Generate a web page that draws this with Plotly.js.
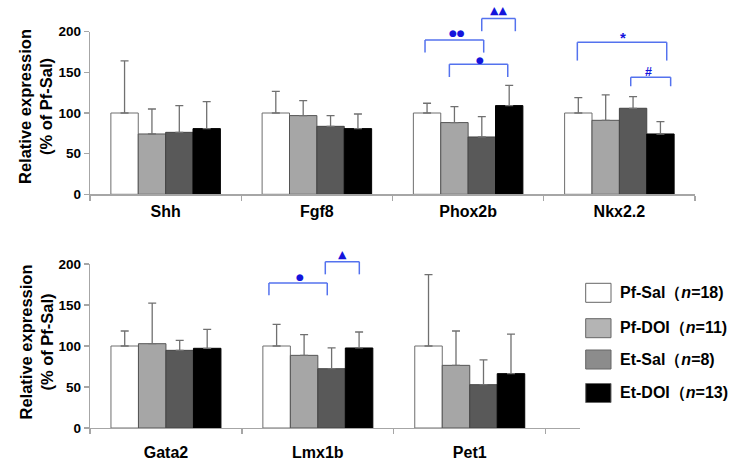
<!DOCTYPE html>
<html>
<head>
<meta charset="utf-8">
<script src="https://cdn.plot.ly/plotly-3.0.1.min.js"></script>
<style>html,body{margin:0;padding:0;background:#fff;}#chart{width:730px;height:468px;}</style>
</head>
<body>
<div id="chart"></div>
<script>
// ---------- data ----------
const groups = ['Pf-Sal', 'Pf-DOI', 'Et-Sal', 'Et-DOI'];
const groupN = [18, 11, 8, 13];

const topGenes = ['Shh', 'Fgf8', 'Phox2b', 'Nkx2.2'];
const topPfSal = [100, 100, 100, 100];
const topPfDOI = [74.2, 96.8, 88.2, 91.0];
const topEtSal = [76.2, 83.6, 70.5, 105.8];
const topEtDOI = [80.8, 80.8, 109.1, 74.2];
const topPfSalErr = [64, 26.7, 12, 19];
const topPfDOIErr = [30.7, 18.5, 19.7, 31.2];
const topEtSalErr = [32.9, 13.2, 25.1, 14.4];
const topEtDOIErr = [33.2, 18, 25, 15.2];

const botGenes = ['Gata2', 'Lmx1b', 'Pet1'];
const botPfSal = [100, 100, 100];
const botPfDOI = [102.8, 88.6, 76.4];
const botEtSal = [94.7, 72.3, 52.8];
const botEtDOI = [97.2, 97.6, 66.3];
const botPfSalErr = [18.3, 26.4, 87];
const botPfDOIErr = [49.6, 25.2, 41.9];
const botEtSalErr = [12.2, 25.3, 30.2];
const botEtDOIErr = [23, 19.5, 48.3];

const yTicks = [0, 50, 100, 150, 200];

// significance brackets: [panel, x0, x1, yTop, yDrop, label, labelX, labelY]
const brackets = [
  ['top', 1.715, 2.103, 189.8, 174.3, '●●', 1.924, 199],
  ['top', 2.090, 2.312, 216.2, 200.6, '▲▲', 2.198, 225.5],
  ['top', 1.876, 2.262, 160.0, 144.3, '●', 2.079, 165.7],
  ['top', 2.722, 3.313, 187.0, 164.5, '*', 3.022, 193.0],
  ['top', 3.075, 3.339, 144.0, 132.9, '#', 3.194, 151.0],
  ['bot', 0.678, 1.062, 176.8, 161.8, '●', 0.884, 184.0],
  ['bot', 1.049, 1.273, 202.8, 187.4, '▲', 1.160, 211.0]
];

// ---------- styles ----------
const fills = ['#ffffff', '#a6a6a6', '#595959', '#000000'];
const legendFills = ['#ffffff', '#b4b4b4', '#8c8c8c', '#000000'];
const edges = ['#6e6e6e', '#555555', '#444444', '#000000'];
const FONT = 'Liberation Sans, Arial, Helvetica, sans-serif';
const W = 730, H = 468;
const topDomY = [1 - 194.3 / H, 1 - 31.7 / H];
const botDomY = [1 - 428 / H, 1 - 264 / H];
const topDomX = [90 / W, 695 / W];
const botDomX = [90 / W, 580 / W];

const topVals = [topPfSal, topPfDOI, topEtSal, topEtDOI];
const topErrs = [topPfSalErr, topPfDOIErr, topEtSalErr, topEtDOIErr];
const botVals = [botPfSal, botPfDOI, botEtSal, botEtDOI];
const botErrs = [botPfSalErr, botPfDOIErr, botEtSalErr, botEtDOIErr];

const traces = [];
function addTraces(genes, vals, errs, xa, ya) {
  groups.forEach((g, i) => {
    traces.push({
      type: 'bar', name: g, x: genes, y: vals[i], xaxis: xa, yaxis: ya,
      showlegend: false, hoverinfo: 'skip',
      marker: {color: fills[i], line: {color: edges[i], width: 1}},
      error_y: {type: 'data', symmetric: false, array: errs[i],
                arrayminus: errs[i].map(() => 0),
                color: '#707070', thickness: 1.3, width: 4}
    });
  });
}
addTraces(topGenes, topVals, topErrs, 'x', 'y');
addTraces(botGenes, botVals, botErrs, 'x2', 'y2');

function toPaper(dom, v) { return dom[0] + (v / 200) * (dom[1] - dom[0]); }

const shapes = [];
const annotations = [];
const lineCol = '#5472ee';
const symCol = '#1414dc';
brackets.forEach(b => {
  const [panel, x0, x1, yt, yd, lab, lx, ly] = b;
  const dom = panel === 'top' ? topDomY : botDomY;
  const xr = panel === 'top' ? 'x' : 'x2';
  const pt = toPaper(dom, yt), pd = toPaper(dom, yd);
  const ln = {color: lineCol, width: 1.5};
  shapes.push({type: 'line', xref: xr, yref: 'paper', x0: x0, x1: x0, y0: pd, y1: pt, line: ln});
  shapes.push({type: 'line', xref: xr, yref: 'paper', x0: x0, x1: x1, y0: pt, y1: pt, line: ln});
  shapes.push({type: 'line', xref: xr, yref: 'paper', x0: x1, x1: x1, y0: pt, y1: pd, line: ln});
  let size = 9, fam = 'DejaVu Sans';
  if (lab.indexOf('▲') >= 0) size = 11;
  if (lab === '*') { size = 15; fam = FONT; }
  if (lab === '#') { size = 12.5; fam = FONT; }
  annotations.push({xref: xr, yref: 'paper', x: lx, y: toPaper(dom, ly), text: lab,
    showarrow: false, xanchor: 'center', yanchor: 'middle',
    font: {family: fam, size: size, color: symCol, weight: 'bold'}});
});

// y titles
[[topDomY, 107], [botDomY, 342.5]].forEach(t => {
  annotations.push({xref: 'paper', yref: 'paper', x: 36 / W, y: 1 - t[1] / H,
    text: 'Relative expression<br>(% of Pf-Sal)', textangle: -90, showarrow: false,
    xanchor: 'center', yanchor: 'middle',
    font: {family: FONT, size: 16.5, color: '#000', weight: 'bold'}});
});

// legend
const legRows = [292.8, 328.2, 359.5, 393];
groups.forEach((g, i) => {
  const yc = legRows[i];
  shapes.push({type: 'rect', xref: 'paper', yref: 'paper',
    x0: 585.7 / W, x1: 611 / W, y0: 1 - (yc + 9.5) / H, y1: 1 - (yc - 9.5) / H,
    fillcolor: legendFills[i], line: {color: '#666666', width: 1}});
  annotations.push({xref: 'paper', yref: 'paper', x: 617.5 / W, y: 1 - yc / H,
    text: g + '（<i>n</i>=' + groupN[i] + ')', showarrow: false,
    xanchor: 'left', yanchor: 'middle',
    font: {family: FONT, size: 16, color: '#000', weight: 'bold'}});
});

const axLine = '#a6a6a6';
function xAxis(dom, range, anchor, standoff) {
  return {domain: dom, anchor: anchor, type: 'category', range: range,
    showline: true, linecolor: axLine, linewidth: 1.3, showgrid: false, zeroline: false,
    ticks: 'outside', tickson: 'boundaries', ticklen: 5, tickcolor: axLine, tickwidth: 1.3,
    ticklabelstandoff: standoff,
    tickfont: {family: FONT, size: 16, color: '#000', weight: 'bold'}, fixedrange: true};
}
function yAxis(dom, anchor) {
  return {domain: dom, anchor: anchor, range: [0, 200], tickvals: yTicks,
    showline: true, linecolor: axLine, linewidth: 1.3, showgrid: false, zeroline: false,
    ticks: 'outside', ticklen: 5, tickcolor: axLine, tickwidth: 1.3,
    tickfont: {family: FONT, size: 13.5, color: '#000', weight: 'bold'}, fixedrange: true};
}

const layout = {
  width: W, height: H, margin: {l: 0, r: 0, t: 0, b: 0},
  paper_bgcolor: '#fff', plot_bgcolor: '#fff',
  barmode: 'group', bargap: 0.276, bargroupgap: 0,
  xaxis: xAxis(topDomX, [-0.5, 3.5], 'y', 2),
  yaxis: yAxis(topDomY, 'x'),
  xaxis2: xAxis(botDomX, [-0.5, 2.5 + 34.3 / 151.9], 'y2', 9),
  yaxis2: yAxis(botDomY, 'x2'),
  shapes: shapes, annotations: annotations, showlegend: false
};

Plotly.newPlot('chart', traces, layout, {displayModeBar: false, staticPlot: true});
</script>
</body>
</html>
